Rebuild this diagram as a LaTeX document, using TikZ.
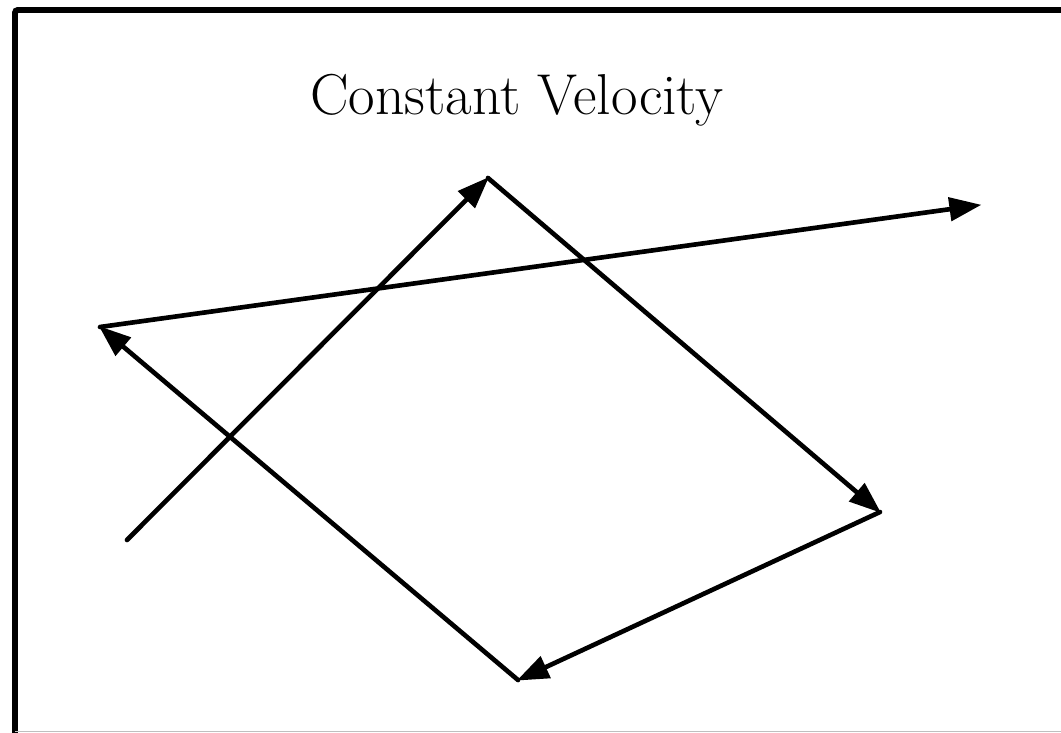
\documentclass[tikz,border=0pt]{standalone}
\usepackage{xcolor}
\usetikzlibrary{arrows.meta}
\tikzset{
  velarrow/.style={-{Triangle[length=8mm, width=5.8mm]}, line width=3.3pt,
                   line cap=round, line join=miter, shorten >=-1pt}
}
\begin{document}
\begin{tikzpicture}[x=0.025cm, y=-0.025cm]
      \useasboundingbox (0,0) rectangle (1061,732);
      \begin{scope}
        \clip (0,0) rectangle (1061,732);
        \draw[line width=4.2pt, rounded corners=2pt] (15,740) -- (15,10) -- (1075,10);
        \draw[line width=1pt, black!25] (15,731.5) -- (1075,731.5);
      \end{scope}
      \node[font=\fontsize{41}{48}\selectfont, anchor=base] (title) at (517,114) {Constant Velocity};
      % path of the moving object
      \coordinate (p0) at (127,540);
      \coordinate (p1) at (488,178);
      \coordinate (p2) at (880,512);
      \coordinate (p3) at (518,680);
      \coordinate (p4) at (100,327);
      \coordinate (p5) at (980,205);
      \draw[velarrow] (p0) -- (p1);
      \draw[velarrow] (p1) -- (p2);
      \draw[velarrow] (p2) -- (p3);
      \draw[velarrow] (p3) -- (p4);
      \draw[velarrow] (p4) -- (p5);
    \end{tikzpicture}
\end{document}
